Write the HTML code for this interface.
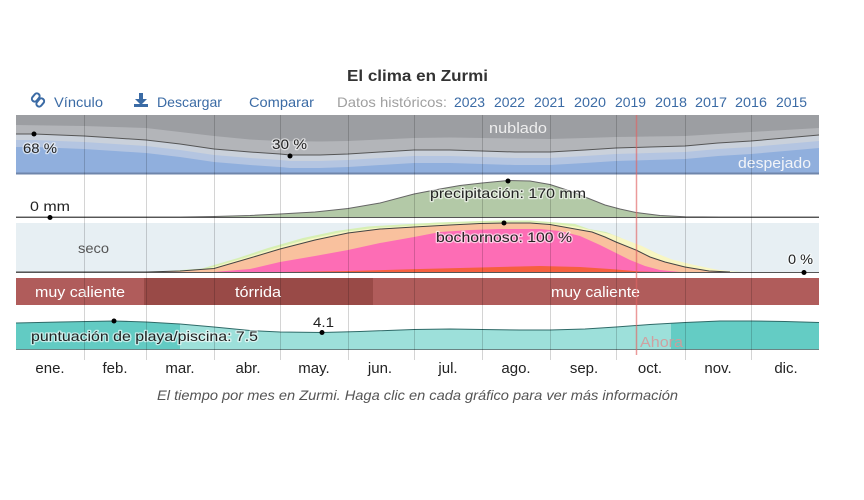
<!DOCTYPE html>
<html><head><meta charset="utf-8"><style>
html,body{margin:0;padding:0;background:#fff;}
svg{display:block;font-family:"Liberation Sans",sans-serif;}
.h{paint-order:stroke;stroke:rgba(255,255,255,0.6);stroke-width:2.5px;stroke-linejoin:round;}
</style></head><body>
<svg width="864" height="500" viewBox="0 0 864 500" xmlns="http://www.w3.org/2000/svg">
<defs>
<clipPath id="cL"><rect x="16" y="300" width="164" height="60"/></clipPath>
<clipPath id="cR"><rect x="671" y="300" width="148" height="60"/></clipPath>
</defs>
<!-- Title -->
<text x="347" y="81" font-size="16" font-weight="bold" fill="#333" textLength="141" lengthAdjust="spacingAndGlyphs">El clima en Zurmi</text>
<!-- link row -->
<g fill="none" stroke="#3b6ba5" stroke-width="2">
<rect x="33" y="93" width="5.5" height="9" rx="2.75" transform="rotate(40 35.75 97.5)"/>
<rect x="37.5" y="98" width="5.5" height="9" rx="2.75" transform="rotate(40 40.25 102.5)"/>
</g>
<g fill="#3b6ba5">
<rect x="139" y="93" width="4" height="7"/>
<polygon points="135,99 147,99 141,105"/>
<rect x="134" y="104" width="14" height="3"/>
</g>
<g font-size="14" fill="#3b6ba5">
<text x="54" y="107" textLength="49" lengthAdjust="spacingAndGlyphs">Vínculo</text>
<text x="157" y="107" textLength="65" lengthAdjust="spacingAndGlyphs">Descargar</text>
<text x="249" y="107" textLength="65" lengthAdjust="spacingAndGlyphs">Comparar</text>
<text x="337" y="107" fill="#a0a0a0" textLength="110" lengthAdjust="spacingAndGlyphs">Datos históricos:</text>
<text x="454" y="107" textLength="31" lengthAdjust="spacingAndGlyphs">2023</text>
<text x="494" y="107" textLength="31" lengthAdjust="spacingAndGlyphs">2022</text>
<text x="534" y="107" textLength="31" lengthAdjust="spacingAndGlyphs">2021</text>
<text x="574" y="107" textLength="32" lengthAdjust="spacingAndGlyphs">2020</text>
<text x="615" y="107" textLength="31" lengthAdjust="spacingAndGlyphs">2019</text>
<text x="655" y="107" textLength="32" lengthAdjust="spacingAndGlyphs">2018</text>
<text x="695" y="107" textLength="32" lengthAdjust="spacingAndGlyphs">2017</text>
<text x="735" y="107" textLength="32" lengthAdjust="spacingAndGlyphs">2016</text>
<text x="776" y="107" textLength="31" lengthAdjust="spacingAndGlyphs">2015</text>
</g>

<!-- Cloud band -->
<rect x="16" y="115" width="803" height="59" fill="#90afdd"/>
<path fill="#b4c5e1" d="M16,115 L16,147 L34,147 L84,149 L115,151 L146,153 L180,157 L214,162 L250,165 L280,167 L290,168 L320,168 L348,167 L380,165 L414,163 L450,163 L482,164 L515,165 L550,165 L585,163 L616,161 L650,160 L685,159 L718,156 L751,154 L785,151 L819,148 L819,115 Z"/>
<path fill="#cad1db" d="M16,115 L16,140 L34,140 L84,142 L115,144 L146,146 L180,150 L214,155 L250,158 L280,160 L290,161 L320,161 L348,160 L380,158 L414,156 L450,156 L482,157 L515,158 L550,158 L585,156 L616,154 L650,153 L685,152 L718,149 L751,147 L785,144 L819,141 L819,115 Z"/>
<path fill="#b3b5b9" d="M16,115 L16,134 L34,134 L84,136 L115,138 L146,140 L180,144 L214,149 L250,152 L280,154 L290,155 L320,155 L348,154 L380,152 L414,150 L450,150 L482,151 L515,152 L550,152 L585,150 L616,148 L650,147 L685,146 L718,143 L751,141 L785,138 L819,135 L819,115 Z"/>
<path fill="#9c9ea2" d="M16,115 L16,125 L50,125.5 L84,126 L115,127 L146,128 L180,132 L214,136 L250,139.5 L280,141 L320,141.5 L348,141 L380,139.5 L414,138 L450,137.5 L482,138 L515,138.5 L550,139 L585,138 L616,137 L650,136.5 L685,136 L718,134 L751,132 L785,130 L819,128 L819,115 Z"/>
<path fill="none" stroke="#555" stroke-width="1" d="M16,134 L34,134 L84,136 L115,138 L146,140 L180,144 L214,149 L250,152 L280,154 L290,155 L320,155 L348,154 L380,152 L414,150 L450,150 L482,151 L515,152 L550,152 L585,150 L616,148 L650,147 L685,146 L718,143 L751,141 L785,138 L819,135"/>
<rect x="16" y="172.5" width="803" height="2" fill="#6f86ab"/>
<text x="489" y="133" font-size="15" fill="#eeeeee" textLength="58" lengthAdjust="spacingAndGlyphs">nublado</text>
<text x="738" y="168" font-size="15" fill="#f2f4f8" textLength="73" lengthAdjust="spacingAndGlyphs">despejado</text>
<circle cx="34" cy="134" r="2.5" fill="#000"/>
<circle cx="290" cy="156" r="2.5" fill="#000"/>
<text class="h" x="23" y="153" font-size="14" fill="#222" textLength="34" lengthAdjust="spacingAndGlyphs">68 %</text>
<text class="h" x="272" y="149" font-size="14" fill="#222" textLength="35" lengthAdjust="spacingAndGlyphs">30 %</text>

<!-- Precipitation -->
<path fill="#b3c9a7" stroke="#666" stroke-width="1" d="M16,217 L180,217 L214,216.5 L250,215.5 L280,214 L315,212 L348,208.5 L380,203 L414,194 L440,189 L460,185.5 L482,183 L508,180.5 L530,181 L550,184.5 L570,191 L590,199 L605,205 L620,209 L636,212.5 L660,215.5 L685,216.7 L720,217 L819,217"/>
<line x1="16" y1="217.5" x2="819" y2="217.5" stroke="#555" stroke-width="1"/>
<circle cx="50" cy="217.5" r="2.5" fill="#000"/>
<circle cx="508" cy="181" r="2.5" fill="#000"/>
<text class="h" x="30" y="211" font-size="14" fill="#222" textLength="40" lengthAdjust="spacingAndGlyphs">0 mm</text>
<text class="h" x="430" y="198" font-size="14" fill="#222" textLength="156" lengthAdjust="spacingAndGlyphs">precipitación: 170 mm</text>

<!-- Humidity -->
<rect x="16" y="223" width="803" height="49" fill="#e7eff3"/>
<path fill="#d7efb4" d="M16,272 L134,272 L168,271 L202,268.5 L238,258 L268,248 L303,238 L336,231 L368,226.5 L402,224.5 L438,222.5 L480,221 L504,220.5 L530,220.5 L550,222 L575,224 L589,229 L606,232 L619,237 L630,242 L650,250 L664,257 L679,262 L699,267 L723,271 L744,272 L819,272 Z"/>
<path fill="#f8f6c3" d="M16,272 L140,272 L174,271 L208,268.5 L244,258 L274,248.5 L309,239 L342,232 L374,228 L408,226 L444,224 L480,222.5 L504,222 L530,222 L550,223.5 L575,226.5 L596,231 L612,234.5 L625,239.5 L642,246 L657,253.5 L672,259.5 L692,264.5 L716,269.5 L737,272 L819,272 Z"/>
<path fill="#f9c19e" d="M16,272 L146,272 L180,271 L214,268.5 L250,258 L280,249 L315,240 L348,233 L380,229 L414,227 L450,225 L480,223.5 L504,223 L530,223 L550,224.5 L575,229 L592,232 L605,237 L616,242 L636,250 L650,257 L665,262 L685,267 L709,271 L730,272 L819,272 Z"/>
<path fill="#fd6db5" d="M16,272 L214,272 L250,269 L280,262 L315,256 L348,250 L380,243 L414,237 L440,232 L470,230 L500,229 L540,229 L560,231 L580,236 L600,245 L616,253 L630,260 L645,266 L660,270 L680,272 Z"/>
<path fill="#f6603f" d="M16,272 L280,272 L350,271 L420,269 L480,267.5 L540,266 L580,267 L610,269 L640,271.5 L660,272 Z"/>
<path fill="none" stroke="#444" stroke-width="1" d="M16,272 L146,272 L180,271 L214,268.5 L250,258 L280,249 L315,240 L348,233 L380,229 L414,227 L450,225 L480,223.5 L504,223 L530,223 L550,224.5 L575,229 L592,232 L605,237 L616,242 L636,250 L650,257 L665,262 L685,267 L709,271 L730,272"/>
<line x1="16" y1="272.5" x2="819" y2="272.5" stroke="#555" stroke-width="1"/>
<circle cx="504" cy="223" r="2.5" fill="#000"/>
<circle cx="804" cy="272.5" r="2.5" fill="#000"/>
<text x="78" y="253" font-size="14" fill="#555" textLength="31" lengthAdjust="spacingAndGlyphs">seco</text>
<text class="h" x="436" y="242" font-size="14" fill="#222" textLength="136" lengthAdjust="spacingAndGlyphs">bochornoso: 100 %</text>
<text class="h" x="788" y="264" font-size="14" fill="#222" textLength="25" lengthAdjust="spacingAndGlyphs">0 %</text>

<!-- Temperature -->
<rect x="16" y="278" width="803" height="27" fill="#b05c5b"/>
<rect x="144" y="278" width="229" height="27" fill="#994a47"/>
<g font-size="15" fill="#fff">
<text x="35" y="297" textLength="90" lengthAdjust="spacingAndGlyphs">muy caliente</text>
<text x="235" y="297" textLength="46" lengthAdjust="spacingAndGlyphs">tórrida</text>
<text x="551" y="297" textLength="89" lengthAdjust="spacingAndGlyphs">muy caliente</text>
</g>

<!-- Beach -->
<path fill="#9de0da" d="M16,349 L16,323 L60,322 L114,321 L146,322 L180,324 L214,327 L250,330.5 L280,332 L322,332.5 L360,331.5 L414,329.5 L450,329 L482,329.5 L520,330 L550,330 L585,329 L616,327 L650,324.5 L685,322.5 L720,321 L751,321 L785,321.5 L819,322.5 L819,349 Z"/>
<g clip-path="url(#cL)"><path fill="#62cbc3" d="M16,349 L16,323 L60,322 L114,321 L146,322 L180,324 L214,327 L214,349 Z"/></g>
<g clip-path="url(#cR)"><path fill="#64ccc4" d="M650,349 L650,324.5 L685,322.5 L720,321 L751,321 L785,321.5 L819,322.5 L819,349 Z"/></g>
<path fill="none" stroke="#2f6a68" stroke-width="1" d="M16,323 L60,322 L114,321 L146,322 L180,324 L214,327 L250,330.5 L280,332 L322,332.5 L360,331.5 L414,329.5 L450,329 L482,329.5 L520,330 L550,330 L585,329 L616,327 L650,324.5 L685,322.5 L720,321 L751,321 L785,321.5 L819,322.5"/>
<line x1="16" y1="349.5" x2="819" y2="349.5" stroke="#6a8585" stroke-width="1"/>
<circle cx="114" cy="321" r="2.5" fill="#000"/>
<circle cx="322" cy="332.5" r="2.5" fill="#000"/>
<text class="h" x="31" y="341" font-size="14" fill="#222" textLength="227" lengthAdjust="spacingAndGlyphs">puntuación de playa/piscina: 7.5</text>
<text class="h" x="313" y="327" font-size="14" fill="#222" textLength="21" lengthAdjust="spacingAndGlyphs">4.1</text>
<text x="640" y="347" font-size="15" fill="#d49a9a" fill-opacity="0.9" textLength="43" lengthAdjust="spacingAndGlyphs">Ahora</text>

<!-- grid lines -->
<g stroke="rgba(0,0,0,0.17)" stroke-width="1">
<line x1="84.5" y1="115" x2="84.5" y2="360"/>
<line x1="146.5" y1="115" x2="146.5" y2="360"/>
<line x1="214.5" y1="115" x2="214.5" y2="360"/>
<line x1="280.5" y1="115" x2="280.5" y2="360"/>
<line x1="348.5" y1="115" x2="348.5" y2="360"/>
<line x1="414.5" y1="115" x2="414.5" y2="360"/>
<line x1="482.5" y1="115" x2="482.5" y2="360"/>
<line x1="550.5" y1="115" x2="550.5" y2="360"/>
<line x1="616.5" y1="115" x2="616.5" y2="360"/>
<line x1="685.5" y1="115" x2="685.5" y2="360"/>
<line x1="751.5" y1="115" x2="751.5" y2="360"/>
</g>
<line x1="636.5" y1="115" x2="636.5" y2="355" stroke="#e06464" stroke-opacity="0.65" stroke-width="1.5"/>

<!-- month labels -->
<g font-size="15" fill="#222" text-anchor="middle">
<text x="50" y="373">ene.</text>
<text x="115" y="373">feb.</text>
<text x="180" y="373">mar.</text>
<text x="248" y="373">abr.</text>
<text x="314" y="373">may.</text>
<text x="380" y="373">jun.</text>
<text x="448" y="373">jul.</text>
<text x="516" y="373">ago.</text>
<text x="584" y="373">sep.</text>
<text x="650" y="373">oct.</text>
<text x="718" y="373">nov.</text>
<text x="786" y="373">dic.</text>
</g>
<text x="157" y="400" font-size="14" font-style="italic" fill="#555" textLength="521" lengthAdjust="spacingAndGlyphs">El tiempo por mes en Zurmi. Haga clic en cada gráfico para ver más información</text>
</svg>
</body></html>
